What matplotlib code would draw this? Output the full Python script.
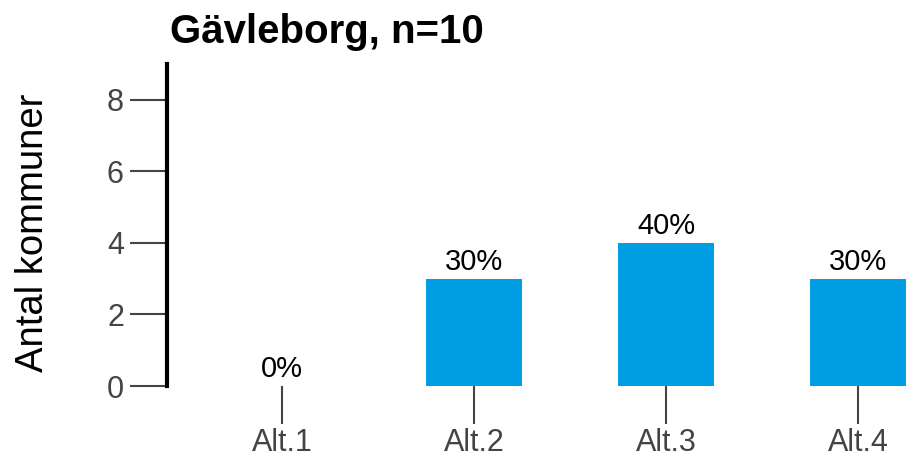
import matplotlib
matplotlib.use("Agg")
import matplotlib.pyplot as plt

categories = ["Alt.1", "Alt.2", "Alt.3", "Alt.4"]
counts = [0, 3, 4, 3]
percent_labels = ["0%", "30%", "40%", "30%"]
yticks = [0, 2, 4, 6, 8]
title = "Gävleborg, n=10"
ylabel = "Antal kommuner"

plt.rcParams['font.family'] = ['Liberation Sans', 'DejaVu Sans']

W, H = 917, 462
fig = plt.figure(figsize=(W / 100, H / 100), dpi=100)
ax = fig.add_axes([167 / W, 1 - 386 / H, 1 - 167 / W, (386 - 64) / H])

x = list(range(1, len(categories) + 1))
ax.bar(x, counts, width=0.5, color="#009FE3")
for xi, c, lab in zip(x, counts, percent_labels):
    ax.annotate(lab, (xi, c), xytext=(0, 2), textcoords="offset points",
                ha="center", va="bottom", fontsize=21, color="black")

ax.set_xlim(0.4, 1 + (W - 282) / 192)
ax.set_ylim(0, 9)
ax.set_xticks(x)
ax.set_xticklabels(categories)
ax.set_yticks(yticks)

for s in ["top", "right", "bottom"]:
    ax.spines[s].set_visible(False)
ax.spines["left"].set_linewidth(3)
ax.spines["left"].set_color("black")

ax.tick_params(axis="both", colors="#444444", labelcolor="#444444",
               length=27, width=1.5, labelsize=22)
ax.tick_params(axis="y", pad=4)
ax.tick_params(axis="x", pad=3)

fig.text(170 / W, 1 - 43 / H, title, fontsize=29, fontweight="bold",
         ha="left", va="baseline")
fig.text(33 / W, 1 - 233 / H, ylabel, fontsize=27.5, rotation=90,
         ha="center", va="center")

fig.savefig("out.png", dpi=100)
